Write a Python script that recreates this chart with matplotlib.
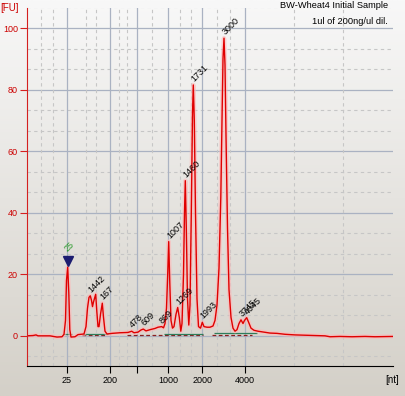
import numpy as np
import matplotlib.pyplot as plt
from matplotlib.colors import LinearSegmentedColormap

plt.rcParams['font.family'] = ['Liberation Sans', 'DejaVu Sans']

# migration time (s) and fluorescence (FU)
time_s = [18.0, 18.6, 18.9, 19.1, 20.3, 21.0, 21.5, 21.7, 21.85, 21.95, 22.07,
          22.18, 22.28, 22.4, 22.8, 23.1, 23.7, 23.9, 24.05, 24.2, 24.33, 24.45,
          24.55, 24.65, 24.87, 24.98, 25.1, 25.2, 25.35, 25.53, 25.65, 25.8,
          26.0, 26.5, 27.3, 28.1, 28.47, 28.7, 29.1, 29.4, 29.63, 29.9, 30.3,
          30.8, 31.1, 31.47, 31.65, 31.8, 31.95, 32.07, 32.17, 32.28, 32.4,
          32.55, 32.7, 32.9, 33.07, 33.23, 33.38, 33.5, 33.65, 33.75, 33.83,
          33.93, 34.05, 34.18, 34.3, 34.43, 34.55, 34.63, 34.73, 34.85, 35.0,
          35.15, 35.35, 35.53, 35.7, 36.0, 36.3, 36.6, 36.8, 37.0, 37.2, 37.38,
          37.5, 37.6, 37.7, 37.8, 37.9, 38.05, 38.2, 38.4, 38.6, 38.8, 39.0,
          39.2, 39.4, 39.6, 39.75, 39.97, 40.15, 40.4, 40.7, 41.1, 41.7, 42.3,
          43.0, 43.8, 44.8, 45.8, 47.8, 48.3, 49.3, 50.5, 51.8, 52.8, 54.6]
fu = [0.0, 0.1, 0.3, 0.0, 0.0, -0.4, -0.3, 0.5, 5.0, 18.0, 22.3,
      14.0, 2.0, -0.4, -0.3, 0.4, 0.6, 3.0, 9.0, 12.5, 13.0, 11.5,
      9.5, 11.0, 13.5, 8.0, 3.0, 3.0, 7.0, 10.6, 6.0, 1.5,
      0.6, 0.8, 1.0, 1.1, 1.5, 1.0, 1.2, 1.9, 2.2, 1.6, 2.0,
      2.4, 2.8, 3.0, 2.6, 4.0, 9.0, 20.0, 30.6, 17.0, 5.0,
      2.5, 3.0, 7.0, 9.2, 6.0, 1.5, 4.0, 20.0, 40.0, 50.4,
      35.0, 12.0, 3.5, 10.0, 40.0, 72.0, 81.5, 70.0, 40.0, 12.0,
      3.0, 2.5, 4.4, 3.0, 2.8, 2.8, 3.2, 5.0, 10.0, 22.0, 45.0,
      70.0, 90.0, 96.7, 88.0, 65.0, 35.0, 15.0, 6.0, 2.5, 1.5, 2.0,
      4.0, 5.2, 4.0, 5.0, 5.9, 4.5, 2.5, 1.8, 1.5, 1.2, 0.9,
      0.8, 0.5, 0.3, 0.2, 0.0, -0.3, -0.2, -0.3, -0.2, -0.3, -0.2]

# ladder positions on the time axis and their sizes
ladder_time = [22.0, 26.33, 28.97, 32.13, 35.53, 39.83]
ladder_label = ['25', '200', '', '1000', '2000', '4000']
minor_time = [19.37, 20.63, 23.85, 24.9, 27.15, 27.95, 30.5, 33.3, 34.37,
              36.97, 38.3, 44.7, 49.63]

# called peaks
peak_time = [24.33, 25.53, 28.47, 29.63, 31.47, 32.17, 33.07, 33.83, 34.63,
             35.53, 37.7, 39.4, 39.97]
peak_fu = [13.0, 10.6, 1.5, 2.2, 3.0, 30.6, 9.2, 50.4, 81.5, 4.4, 96.7, 5.2, 5.9]
peak_label = ['1442', '167', '478', '609', '869', '1007', '1269', '1460',
              '1731', '1993', '3000', '3745', '4045']

marker_time = 22.07
marker_fu = 22.3
marker_label = '25'

# baseline segments under the peaks
green_start = [21.6, 23.6, 31.7, 36.7]
green_end = [22.5, 26.1, 35.6, 41.0]
green_fu = [0.5, 0.6, 0.7, 0.8]
dash_start = [23.5, 28.0, 36.5]
dash_end = [26.0, 35.6, 40.5]
dash_fu = [0.2, 0.3, 0.3]

fig = plt.figure(figsize=(4.05, 3.96), dpi=100)

# grey gradient background
bg = fig.add_axes([0, 0, 1, 1], zorder=0)
grad = LinearSegmentedColormap.from_list('bg', ['#f8f8f8', '#d4d0c8'])
bg.imshow(np.linspace(0, 1, 256).reshape(-1, 1), aspect='auto', cmap=grad,
          extent=[0, 1, 0, 1])
bg.axis('off')

ax = fig.add_axes([27 / 405, 30 / 396, 366 / 405, 358 / 396], zorder=1)
ax.set_facecolor('none')
ax.set_xlim(18.0, 54.6)
ax.set_ylim(-9.8, 106.5)

# grid
for y in np.arange(-20 / 3, 107, 20 / 3):
    if abs(round(y / 20) * 20 - y) < 0.01:
        ax.axhline(y, color='#aab2c2', lw=0.9, zorder=1)
    else:
        ax.axhline(y, color='#c6c6c6', lw=0.8, ls=(0, (3, 3)), zorder=1)
for x in ladder_time:
    ax.axvline(x, color='#aab2c2', lw=0.9, zorder=1)
for x in minor_time:
    ax.axvline(x, color='#c6c6c6', lw=0.8, ls=(0, (3, 3)), zorder=1)

# baselines
ax.hlines(dash_fu, dash_start, dash_end, color='#8b2020', lw=0.9,
          ls=(0, (3, 2)), zorder=2)
ax.hlines(green_fu, green_start, green_end, color='#2e7d5b', lw=0.9, zorder=2)

# trace with soft halo
ax.plot(time_s, fu, color='#ffb8b8', lw=3.2, alpha=0.6, zorder=3,
        solid_joinstyle='round')
ax.plot(time_s, fu, color='#e00000', lw=1.0, zorder=4)

# marker
ax.plot(marker_time, marker_fu + 2.0, marker='v', ms=7.5, color='#1c1c70',
        zorder=5)
ax.annotate(marker_label, (marker_time, marker_fu + 4.5), xytext=(1, 0),
            textcoords='offset points', rotation=45, rotation_mode='anchor',
            ha='left', va='bottom', fontsize=6.5, color='#2a9a2a', zorder=6)

for t, v, lab in zip(peak_time, peak_fu, peak_label):
    ax.annotate(lab, (t, v), xytext=(2, 1), textcoords='offset points',
                rotation=45, rotation_mode='anchor', ha='left', va='bottom',
                fontsize=6.5, color='black', zorder=6)

# axes styling
for s in ['top', 'right']:
    ax.spines[s].set_visible(False)
ax.spines['left'].set_color('#d42020')
ax.spines['left'].set_zorder(7)
ax.spines['bottom'].set_color('black')
ax.spines['bottom'].set_zorder(7)

ax.set_yticks([0, 20, 40, 60, 80, 100])
ax.tick_params(axis='y', colors='#d42020', labelcolor='#cc0000', length=5,
               labelsize=6.5, pad=1.5)
ax.set_xticks(ladder_time)
ax.set_xticklabels(ladder_label)
ax.tick_params(axis='x', colors='black', length=5, labelsize=6.5, pad=2)

fig.text(0.0, 388 / 396, '[FU]', color='#cc0000', fontsize=7, ha='left',
         va='center')
fig.text(399 / 405, 16 / 396, '[nt]', color='black', fontsize=7, ha='right',
         va='center')
fig.text(388 / 405, 390 / 396, 'BW-Wheat4 Initial Sample', fontsize=6.7,
         ha='right', va='center')
fig.text(388 / 405, 375 / 396, '1ul of 200ng/ul dil.', fontsize=6.7,
         ha='right', va='center')

fig.savefig('out.png', dpi=100)
